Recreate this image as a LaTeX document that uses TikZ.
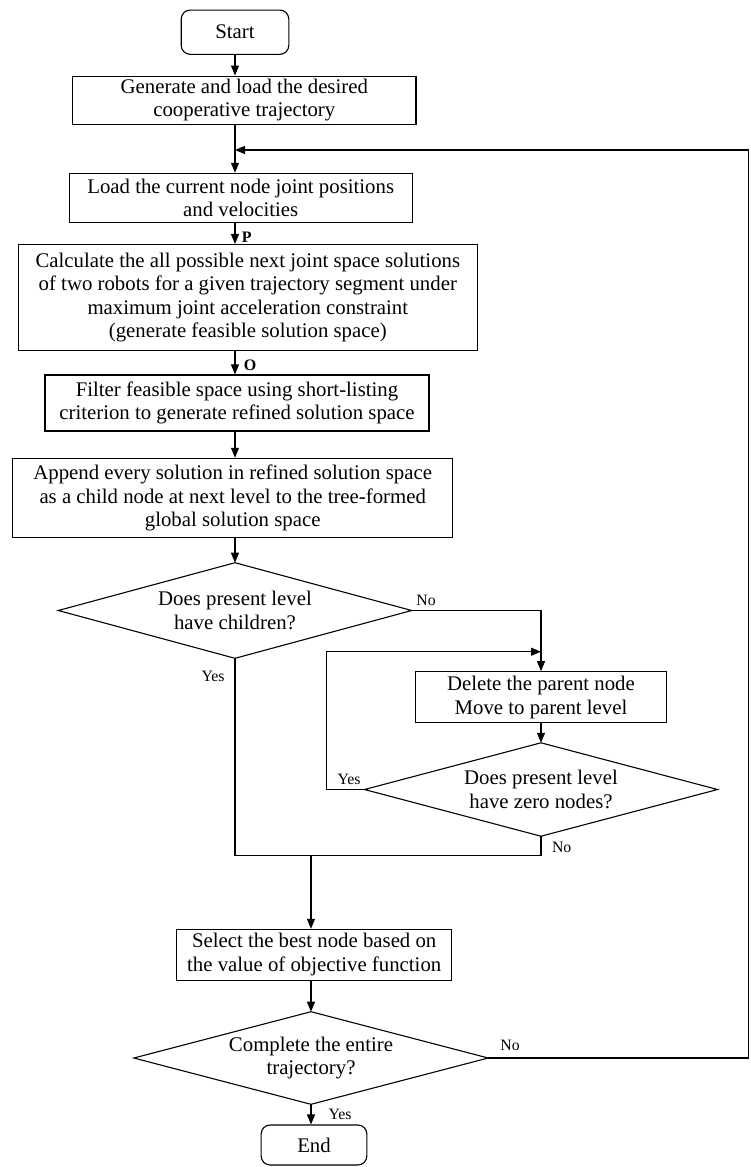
\documentclass[tikz,border=0pt]{standalone}
\usepackage{fontspec}
\setmainfont{Liberation Serif}
\usetikzlibrary{shapes.geometric,arrows.meta}
\begin{document}
\begin{tikzpicture}[x=1pt,y=-1pt,line width=1.1pt,
  mainfont/.style={font=\fontsize{20.8}{23.6}\selectfont},
  box/.style={draw,rectangle,align=center,inner sep=0pt,mainfont},
  term/.style={box,rounded corners=9pt},
  dec/.style={draw,diamond,aspect=3.7,inner sep=0pt,outer sep=0pt,align=center,mainfont},
  lbl/.style={font=\fontsize{15.8}{18}\selectfont,inner sep=0pt},
  plbl/.style={font=\bfseries\fontsize{16}{18}\selectfont,inner sep=0pt},
  arr/.style={-{Triangle[length=10pt,width=8pt]}}]
\useasboundingbox[fill=white] (0,0) rectangle (750,1167);

\node[term,minimum width=107.6pt,minimum height=44.3pt] (start) at (235,32.2) {Start};
\node[box,minimum width=343.3pt,minimum height=48.3pt] (box1) at (244.3,100.2)
  {Generate and load the desired\\cooperative trajectory};
\node[box,minimum width=343.3pt,minimum height=49.4pt] (box2) at (240.7,198)
  {Load the current node joint positions\\and velocities};
\node[box,minimum width=459pt,minimum height=106pt] (box3) at (247.8,297.5)
  {Calculate the all possible next joint space solutions\\of two robots for a given trajectory segment under\\maximum joint acceleration constraint\\(generate feasible solution space)};
\node[box,minimum width=384pt,minimum height=56pt] (box4) at (237,403)
  {Filter feasible space using short-listing\\criterion to generate refined solution space};
\node[box,minimum width=440pt,minimum height=79.4pt] (box5) at (232.7,498)
  {Append every solution in refined solution space\\as a child node at next level to the tree-formed\\global solution space};
\node[dec,minimum width=353.4pt,minimum height=95.6pt] (d1) at (235,610.5)
  {Does present level\\have children?};
\node[box,minimum width=251.7pt,minimum height=51pt] (box6) at (541,697.2)
  {Delete the parent node\\Move to parent level};
\node[dec,minimum width=353pt,minimum height=93.4pt] (d2) at (541,789.5)
  {Does present level\\have zero nodes?};
\node[box,minimum width=275pt,minimum height=50.7pt] (box7) at (314.2,954.7)
  {Select the best node based on\\the value of objective function};
\node[dec,minimum width=354.3pt,minimum height=92.6pt] (d3) at (311,1058)
  {Complete the entire\\trajectory?};
\node[term,minimum width=105.7pt,minimum height=40pt] (end) at (314,1145) {End};

\coordinate (fbt) at (748.5,150);
\coordinate (lpx) at (326.7,651.7);
\coordinate (mrg) at (235,855.7);

% main spine
\draw[arr] (start.south) -- (start.south |- box1.north);
\draw[arr] (start.south |- box1.south) -- (start.south |- box2.north);
\draw[arr] (start.south |- box2.south) -- (start.south |- box3.north);
\draw[arr] (start.south |- box3.south) -- (start.south |- box4.north);
\draw[arr] (start.south |- box4.south) -- (start.south |- box5.north);
\draw[arr] (d1.north |- box5.south) -- (d1.north);
% feedback loop from d3
\draw[arr] (d3.east) -- (d3.east -| fbt) -- (fbt) -- (fbt -| start.south);
% d1 No branch
\draw[arr] (d1.east) -- (d1.east -| box6.north) -- (box6.north);
\draw[arr] (box6.south) -- (d2.north);
% d2 Yes loop
\draw[arr] (d2.west) -- (d2.west -| lpx) -- (lpx) -- (lpx -| box6.north);
% merge
\draw (d2.south) -- (d2.south |- mrg) -- (mrg);
\draw (d1.south) -- (mrg);
\draw[arr] (d3.north |- mrg) -- (d3.north |- box7.north);
\draw[arr] (d3.north |- box7.south) -- (d3.north);
\draw[arr] (d3.south) -- (d3.south |- end.north);

% labels
\node[plbl] (lp) at (246.7,237.5) {P};
\node[plbl] (lo) at (250,365.5) {O};
\node[lbl] (l1) at (426,600) {No};
\node[lbl] (l2) at (213,676) {Yes};
\node[lbl] (l3) at (349,779) {Yes};
\node[lbl] (l4) at (561.7,847) {No};
\node[lbl] (l5) at (510,1045) {No};
\node[lbl] (l6) at (340,1114) {Yes};
\end{tikzpicture}
\end{document}
